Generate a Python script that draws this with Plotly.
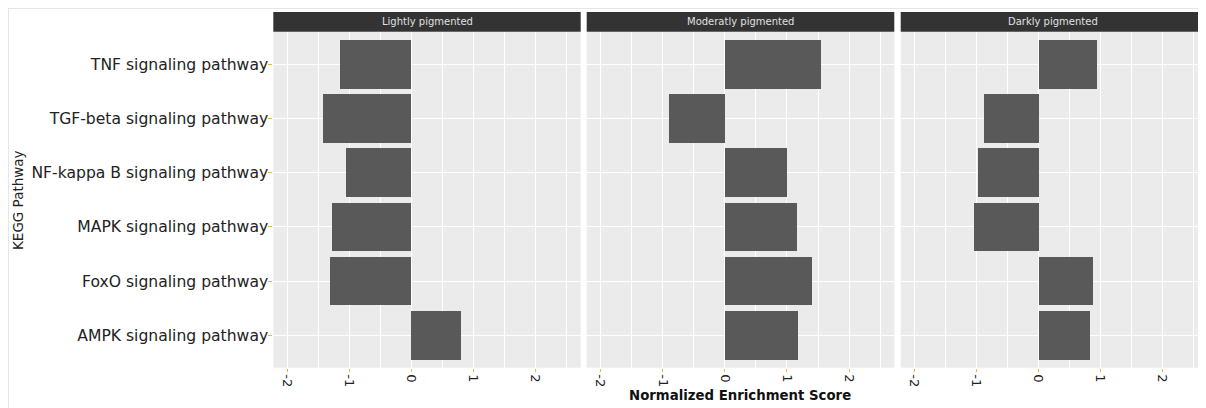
import plotly.graph_objects as go

# ---- data ----
pathways = [
    "AMPK signaling pathway",
    "FoxO signaling pathway",
    "MAPK signaling pathway",
    "NF-kappa B signaling pathway",
    "TGF-beta signaling pathway",
    "TNF signaling pathway",
]
panels = ["Lightly pigmented", "Moderatly pigmented", "Darkly pigmented"]
nes_light = [0.80, -1.31, -1.27, -1.04, -1.42, -1.15]
nes_moderate = [1.18, 1.39, 1.15, 1.00, -0.90, 1.54]
nes_dark = [0.83, 0.87, -1.04, -0.97, -0.875, 0.94]
x_ticks = [-2, -1, 0, 1, 2]
x_tick_labels = ["-2", "-1", "0", "1", "2"]
x_title = "Normalized Enrichment Score"
y_title = "KEGG Pathway"

# page body has an 8px margin: the figure is drawn at (8, 8)
OFF = 8
W, H = 1206 - OFF, 408 - OFF
FONT = "DejaVu Sans"


def px(v):
    return (v - OFF) / W


def py(v):
    return (H - (v - OFF)) / H


panel_px = [(273.3, 580.7), (586.7, 894.3), (900.7, 1206.0)]
x_ranges = [[-2.222, 2.728], [-2.225, 2.728], [-2.216, 2.699]]
plot_top, plot_bot = 32.0, 367.7
strip_top, strip_bot = 12.0, 31.7

series = [nes_light, nes_moderate, nes_dark]

fig = go.Figure()
for i, vals in enumerate(series):
    sfx = "" if i == 0 else str(i + 1)
    fig.add_trace(go.Bar(
        x=vals, y=pathways, orientation="h", width=0.9,
        marker=dict(color="#595959", line=dict(width=0)),
        xaxis="x" + sfx, yaxis="y" + sfx, showlegend=False,
        hoverinfo="x+y",
    ))

layout = dict(
    width=W, height=H,
    margin=dict(l=0, r=0, t=0, b=0),
    paper_bgcolor="white",
    plot_bgcolor="#ebebeb",
    font=dict(family=FONT, color="#222222"),
    bargap=0,
    showlegend=False,
)

for i in range(3):
    sfx = "" if i == 0 else str(i + 1)
    x0, x1 = panel_px[i]
    layout["xaxis" + sfx] = dict(
        domain=[px(x0), min(px(x1), 1.0)], range=x_ranges[i], anchor="y" + sfx,
        tickmode="array", tickvals=x_ticks, ticktext=x_tick_labels,
        tickangle=90, ticks="outside", ticklen=3, tickwidth=1,
        tickcolor="#f0b43c",
        tickfont=dict(size=13, color="#222222", family=FONT),
        showgrid=True, gridcolor="white", gridwidth=1.3,
        minor=dict(dtick=0.5, tick0=0, showgrid=True, gridcolor="white",
                   gridwidth=0.6),
        zeroline=False, showline=False, automargin=False, fixedrange=True,
    )
    ydict = dict(
        domain=[py(plot_bot), py(plot_top)], range=[-0.6, 5.6],
        anchor="x" + sfx, type="category",
        categoryorder="array", categoryarray=pathways,
        showgrid=True, gridcolor="white", gridwidth=1.3,
        zeroline=False, showline=False, automargin=False, fixedrange=True,
    )
    if i == 0:
        ydict.update(ticks="outside", ticklen=4, tickwidth=1,
                     tickcolor="#f0b43c", ticklabelstandoff=-3,
                     tickfont=dict(size=15.6, color="#222222", family=FONT),
                     showticklabels=True)
    else:
        ydict.update(ticks="", showticklabels=False)
    layout["yaxis" + sfx] = ydict

shapes = []
annotations = []
for i, name in enumerate(panels):
    x0, x1 = panel_px[i]
    shapes.append(dict(type="rect", xref="paper", yref="paper",
                       x0=px(x0), x1=min(px(x1), 1.0), y0=py(strip_bot), y1=py(strip_top),
                       fillcolor="#333333", line=dict(width=0), layer="above"))
    annotations.append(dict(text=name, xref="paper", yref="paper",
                            x=px((x0 + x1) / 2), y=py((strip_top + strip_bot) / 2),
                            xanchor="center", yanchor="middle", showarrow=False,
                            font=dict(size=10, color="#e0e0e0", family=FONT)))

# outer light frame (top and left edge)
shapes.append(dict(type="line", xref="paper", yref="paper",
                   x0=0, x1=1.0, y0=1 - 0.5 / H, y1=1 - 0.5 / H,
                   line=dict(color="#e6e6e6", width=1)))
shapes.append(dict(type="line", xref="paper", yref="paper",
                   x0=0.5 / W, x1=0.5 / W, y0=1, y1=0,
                   line=dict(color="#e6e6e6", width=1)))

annotations.append(dict(text="<b>" + x_title + "</b>", xref="paper", yref="paper",
                        x=px(740), y=py(395), xanchor="center", yanchor="middle",
                        showarrow=False,
                        font=dict(size=13.3, color="#111111", family=FONT)))
annotations.append(dict(text=y_title, xref="paper", yref="paper",
                        x=px(18), y=py(200), xanchor="center", yanchor="middle",
                        textangle=-90, showarrow=False,
                        font=dict(size=13.5, color="#222222", family=FONT)))

layout["shapes"] = shapes
layout["annotations"] = annotations
fig.update_layout(**layout)

fig.write_html("out.html")
